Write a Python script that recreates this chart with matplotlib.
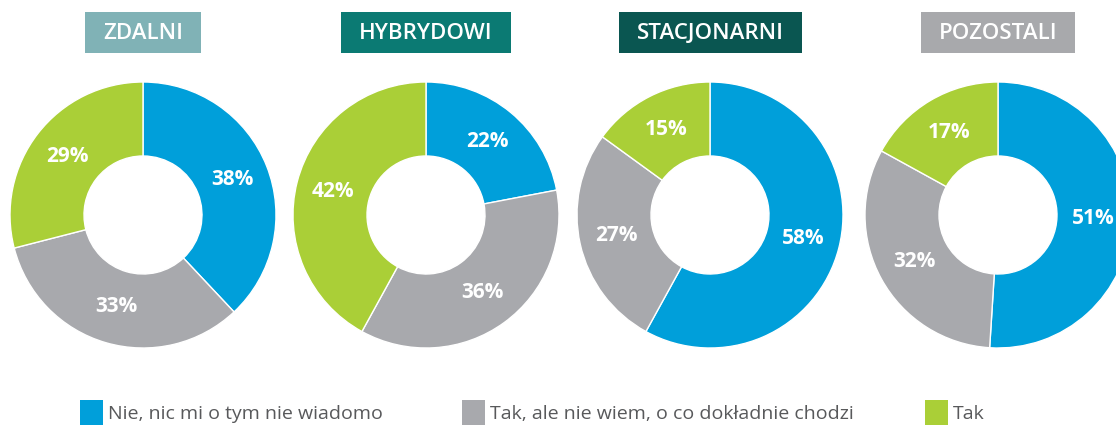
import matplotlib
matplotlib.use("Agg")
import matplotlib.pyplot as plt
from matplotlib.patches import Rectangle

plt.rcParams["font.family"] = ["Open Sans", "DejaVu Sans"]

groups = ["ZDALNI", "HYBRYDOWI", "STACJONARNI", "POZOSTALI"]
group_colors = ["#80B2B6", "#0B7A73", "#0A5651", "#A8A9AC"]
categories = ["Nie, nic mi o tym nie wiadomo", "Tak, ale nie wiem, o co dokładnie chodzi", "Tak"]
cat_colors = ["#009FDA", "#A8A9AD", "#AACF37"]
nie = [38, 22, 58, 51]
tak_ale = [33, 36, 27, 32]
tak = [29, 42, 15, 17]

W, H = 1116, 425
fig = plt.figure(figsize=(W / 100, H / 100), dpi=100)
ax = fig.add_axes([0, 0, 1, 1])

centers_x = [143, 426, 710, 998]
cy = H - 215
R = 133
ring = (133 - 59) / 133

for i, g in enumerate(groups):
    vals = [nie[i], tak_ale[i], tak[i]]
    ax.pie(
        vals, colors=cat_colors, startangle=90, counterclock=False,
        center=(centers_x[i], cy), radius=R, autopct="%d%%", pctdistance=0.72,
        wedgeprops=dict(width=R * ring, edgecolor="white", linewidth=1),
        textprops=dict(color="white", fontsize=15, fontweight="bold"),
        frame=True,
    )

    # title box sized to the text
    t = ax.text(centers_x[i], H - 33, g, ha="center", va="center",
                color="white", fontsize=16, fontweight="semibold", zorder=5)
    fig.canvas.draw()
    bw = t.get_window_extent().width + 36
    ax.add_patch(Rectangle((centers_x[i] - bw / 2, H - 53), bw, 41,
                           facecolor=group_colors[i], edgecolor="none", zorder=4))

# legend
leg_x = [80, 462, 925]
for x, lab, c in zip(leg_x, categories, cat_colors):
    ax.add_patch(Rectangle((x, -10), 23, 35, facecolor=c, edgecolor="none"))
    ax.text(x + 28, 11, lab, ha="left", va="center", color="#58595B", fontsize=14)

ax.set_xlim(0, W)
ax.set_ylim(0, H)
ax.set_aspect("equal")
ax.axis("off")

fig.savefig("out.png", dpi=100)
